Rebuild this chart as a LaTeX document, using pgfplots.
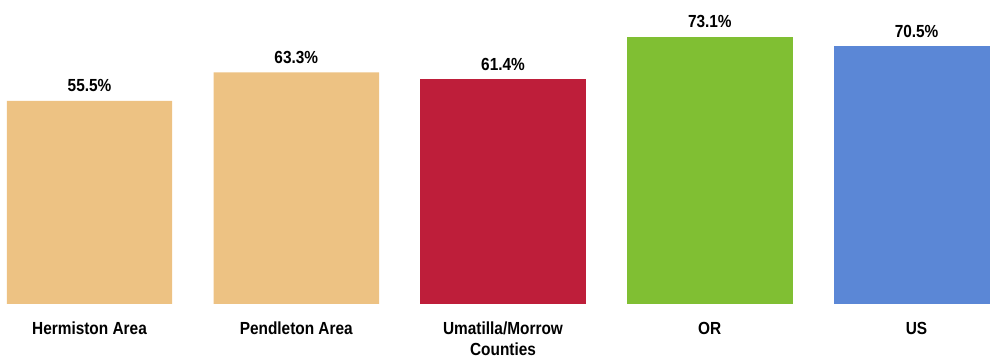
\documentclass[border=0pt]{standalone}
\usepackage{pgfplots}
\pgfplotsset{compat=1.18}
\usepackage{fontspec}
\setmainfont{Liberation Sans}
\newfontfamily\lbl{Liberation Sans}[FakeStretch=0.88]
\definecolor{tan}{HTML}{EDC283}
\definecolor{crim}{HTML}{BE1E3A}
\definecolor{grn}{HTML}{80BF33}
\definecolor{blu}{HTML}{5B87D6}
\begin{document}
\begin{tikzpicture}
\begin{axis}[
  at={(0,0)}, anchor=south west,
  scale only axis, width=990pt, height=304pt,
  xmin=-0.433, xmax=4.355, ymin=0, ymax=83.1,
  axis lines=none,
  ybar, bar width=0.8, bar shift=0pt,
  xtick={0,1,2,3,4},
  xticklabels={Hermiston Area,Pendleton Area,Umatilla/Morrow\\Counties,OR,US},
  ytick=\empty,
  point meta=y,
  /pgf/number format/assume math mode=true,
  nodes near coords={\pgfmathprintnumber[fixed,fixed zerofill,precision=1,assume math mode=true]{\pgfplotspointmeta}\%},
  every node near coord/.append style={font=\lbl\bfseries\fontsize{17.5}{21}\selectfont, anchor=base, yshift=9pt, inner sep=0pt, text=black},
]
\addplot[fill=tan, draw=none] coordinates {(0,55.5) (1,63.3)};
\addplot[fill=crim, draw=none] coordinates {(2,61.4)};
\addplot[fill=grn, draw=none] coordinates {(3,73.1)};
\addplot[fill=blu, draw=none] coordinates {(4,70.5)};
\end{axis}
\foreach \x/\t in {0/Hermiston Area,1/Pendleton Area,3/OR,4/US} {
  \node[font=\lbl\bfseries\fontsize{17.5}{21}\selectfont, anchor=base, inner sep=0pt] at ({(89.5+206.75*\x)*1pt},-31pt) {\t};
}
\node[font=\lbl\bfseries\fontsize{17.5}{21}\selectfont, anchor=base, inner sep=0pt] at ({(89.5+206.75*2)*1pt},-31pt) {Umatilla/Morrow};
\node[font=\lbl\bfseries\fontsize{17.5}{21}\selectfont, anchor=base, inner sep=0pt] at ({(89.5+206.75*2)*1pt},-52pt) {Counties};
\pgfresetboundingbox
\path (0,-54pt) rectangle (990pt,304pt);
\end{tikzpicture}
\end{document}
